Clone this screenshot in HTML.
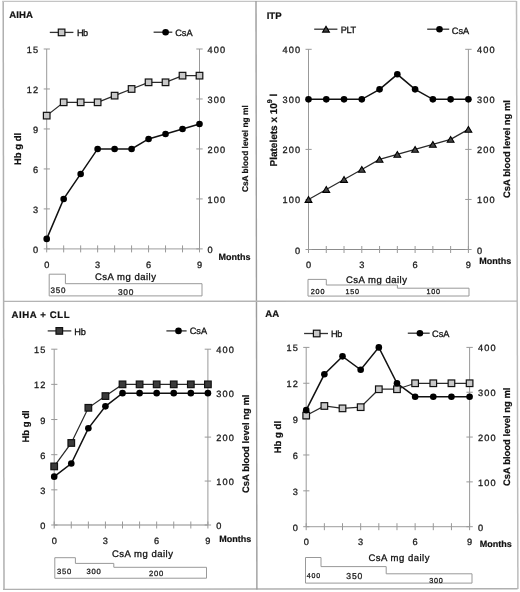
<!DOCTYPE html><html><head><meta charset="utf-8"><style>html,body{margin:0;padding:0;background:#fff;}svg{display:block;will-change:transform;filter:blur(0.3px);}text{text-rendering:geometricPrecision;font-family:"Liberation Sans", sans-serif;}</style></head><body>
<svg width="520" height="592" viewBox="0 0 520 592">
<rect width="520" height="592" fill="#fff"/>
<line x1="3.2" y1="1.2" x2="4" y2="589.4" stroke="#b0b0b0" stroke-width="1.5"/>
<line x1="2.2" y1="1.3" x2="516.4" y2="1.3" stroke="#c4c4c4" stroke-width="1.2"/>
<line x1="516.5" y1="1" x2="517.9" y2="589" stroke="#bcbcbc" stroke-width="1.5"/>
<line x1="3" y1="589.4" x2="517.6" y2="588.7" stroke="#b0b0b0" stroke-width="1.4"/>
<line x1="256" y1="1" x2="256.9" y2="589.4" stroke="#9c9c9c" stroke-width="1.4"/>
<line x1="3.4" y1="301.3" x2="517" y2="301.2" stroke="#b4b4b4" stroke-width="1.3"/>
<line x1="46.7" y1="49" x2="46.7" y2="248.9" stroke="#999" stroke-width="1"/>
<line x1="199.5" y1="49" x2="199.5" y2="248.9" stroke="#999" stroke-width="1"/>
<line x1="46.7" y1="248.9" x2="199.5" y2="248.9" stroke="#b0b0b0" stroke-width="1.3"/>
<line x1="43.7" y1="248.9" x2="49.9" y2="248.9" stroke="#999" stroke-width="1"/>
<text x="39.35" y="252.9" font-size="9.2" stroke="#1a1a1a" stroke-width="0.3" text-anchor="end" fill="#1a1a1a" letter-spacing="1.15">0</text>
<line x1="43.7" y1="208.92" x2="49.9" y2="208.92" stroke="#999" stroke-width="1"/>
<text x="39.35" y="212.92" font-size="9.2" stroke="#1a1a1a" stroke-width="0.3" text-anchor="end" fill="#1a1a1a" letter-spacing="1.15">3</text>
<line x1="43.7" y1="168.94" x2="49.9" y2="168.94" stroke="#999" stroke-width="1"/>
<text x="39.35" y="172.94" font-size="9.2" stroke="#1a1a1a" stroke-width="0.3" text-anchor="end" fill="#1a1a1a" letter-spacing="1.15">6</text>
<line x1="43.7" y1="128.96" x2="49.9" y2="128.96" stroke="#999" stroke-width="1"/>
<text x="39.35" y="132.96" font-size="9.2" stroke="#1a1a1a" stroke-width="0.3" text-anchor="end" fill="#1a1a1a" letter-spacing="1.15">9</text>
<line x1="43.7" y1="88.98" x2="49.9" y2="88.98" stroke="#999" stroke-width="1"/>
<text x="39.35" y="92.98" font-size="9.2" stroke="#1a1a1a" stroke-width="0.3" text-anchor="end" fill="#1a1a1a" letter-spacing="1.15">12</text>
<line x1="43.7" y1="49" x2="49.9" y2="49" stroke="#999" stroke-width="1"/>
<text x="39.35" y="53" font-size="9.2" stroke="#1a1a1a" stroke-width="0.3" text-anchor="end" fill="#1a1a1a" letter-spacing="1.15">15</text>
<line x1="196.3" y1="248.9" x2="202.7" y2="248.9" stroke="#999" stroke-width="1"/>
<text x="207.5" y="252.9" font-size="9.2" stroke="#1a1a1a" stroke-width="0.3" text-anchor="start" fill="#1a1a1a" letter-spacing="1.15">0</text>
<line x1="196.3" y1="198.93" x2="202.7" y2="198.93" stroke="#999" stroke-width="1"/>
<text x="207.5" y="202.93" font-size="9.2" stroke="#1a1a1a" stroke-width="0.3" text-anchor="start" fill="#1a1a1a" letter-spacing="1.15">100</text>
<line x1="196.3" y1="148.95" x2="202.7" y2="148.95" stroke="#999" stroke-width="1"/>
<text x="207.5" y="152.95" font-size="9.2" stroke="#1a1a1a" stroke-width="0.3" text-anchor="start" fill="#1a1a1a" letter-spacing="1.15">200</text>
<line x1="196.3" y1="98.97" x2="202.7" y2="98.97" stroke="#999" stroke-width="1"/>
<text x="207.5" y="102.97" font-size="9.2" stroke="#1a1a1a" stroke-width="0.3" text-anchor="start" fill="#1a1a1a" letter-spacing="1.15">300</text>
<line x1="196.3" y1="49" x2="202.7" y2="49" stroke="#999" stroke-width="1"/>
<text x="207.5" y="53" font-size="9.2" stroke="#1a1a1a" stroke-width="0.3" text-anchor="start" fill="#1a1a1a" letter-spacing="1.15">400</text>
<line x1="46.7" y1="245.4" x2="46.7" y2="252.4" stroke="#999" stroke-width="1"/>
<line x1="63.68" y1="245.4" x2="63.68" y2="252.4" stroke="#999" stroke-width="1"/>
<line x1="80.66" y1="245.4" x2="80.66" y2="252.4" stroke="#999" stroke-width="1"/>
<line x1="97.63" y1="245.4" x2="97.63" y2="252.4" stroke="#999" stroke-width="1"/>
<line x1="114.61" y1="245.4" x2="114.61" y2="252.4" stroke="#999" stroke-width="1"/>
<line x1="131.59" y1="245.4" x2="131.59" y2="252.4" stroke="#999" stroke-width="1"/>
<line x1="148.57" y1="245.4" x2="148.57" y2="252.4" stroke="#999" stroke-width="1"/>
<line x1="165.54" y1="245.4" x2="165.54" y2="252.4" stroke="#999" stroke-width="1"/>
<line x1="182.52" y1="245.4" x2="182.52" y2="252.4" stroke="#999" stroke-width="1"/>
<line x1="199.5" y1="245.4" x2="199.5" y2="252.4" stroke="#999" stroke-width="1"/>
<text x="46.7" y="267.6" font-size="9.2" stroke="#1a1a1a" stroke-width="0.3" text-anchor="middle" fill="#1a1a1a">0</text>
<text x="97.63" y="267.6" font-size="9.2" stroke="#1a1a1a" stroke-width="0.3" text-anchor="middle" fill="#1a1a1a">3</text>
<text x="148.57" y="267.6" font-size="9.2" stroke="#1a1a1a" stroke-width="0.3" text-anchor="middle" fill="#1a1a1a">6</text>
<text x="199.5" y="267.6" font-size="9.2" stroke="#1a1a1a" stroke-width="0.3" text-anchor="middle" fill="#1a1a1a">9</text>
<text x="218.6" y="260.4" font-size="9" font-weight="bold" stroke="#111" stroke-width="0.2" text-anchor="start" fill="#111">Months</text>
<text x="95" y="279.6" font-size="9.5" stroke="#111" stroke-width="0.3" text-anchor="start" fill="#111" letter-spacing="0.5">CsA mg daily</text>
<polygon points="49.2,295.9 49.2,274.2 65.4,274.2 65.4,283.7 202,283.7 202,295.9" fill="none" stroke="#999" stroke-width="1" stroke-linejoin="miter"/>
<text x="50.6" y="293.3" font-size="8" stroke="#222" stroke-width="0.3" text-anchor="start" fill="#222" letter-spacing="0.8">350</text>
<text x="117.9" y="294.8" font-size="8.4" stroke="#222" stroke-width="0.3" text-anchor="start" fill="#222" letter-spacing="0.8">300</text>
<text x="9.2" y="17.9" font-size="9.6" font-weight="bold" stroke="#111" stroke-width="0.2" text-anchor="start" fill="#111" letter-spacing="0.1">AIHA</text>
<line x1="49.8" y1="32.4" x2="73.4" y2="32.4" stroke="#333" stroke-width="1.3"/>
<rect x="58.3" y="29.1" width="6.6" height="6.6" fill="#c8c8c8" stroke="#111" stroke-width="1.2"/>
<text x="77.1" y="35.9" font-size="9.2" stroke="#111" stroke-width="0.3" text-anchor="start" fill="#111" letter-spacing="-0.7">Hb</text>
<line x1="153.6" y1="32.2" x2="172.3" y2="32.2" stroke="#333" stroke-width="1.3"/>
<circle cx="165.6" cy="32.2" r="3.3" fill="#000"/>
<text x="175.2" y="35.6" font-size="9.2" stroke="#111" stroke-width="0.3" text-anchor="start" fill="#111">CsA</text>
<text transform="translate(20.6,148.9) rotate(-90)" font-size="9.55" font-weight="bold" stroke="#111" stroke-width="0.2" text-anchor="middle" fill="#111">Hb g dl</text>
<text transform="translate(248.4,148.7) rotate(-90)" font-size="8.35" font-weight="bold" stroke="#111" stroke-width="0.2" text-anchor="middle" fill="#111">CsA blood level ng ml</text>
<polyline points="46.7,115.63 63.68,102.31 80.66,102.31 97.63,102.31 114.61,95.64 131.59,88.98 148.57,82.32 165.54,82.32 182.52,75.65 199.5,75.65" fill="none" stroke="#2a2a2a" stroke-width="1.25" stroke-linejoin="miter"/>
<rect x="43.4" y="112.33" width="6.6" height="6.6" fill="#c8c8c8" stroke="#111" stroke-width="1.2"/>
<rect x="60.38" y="99.01" width="6.6" height="6.6" fill="#c8c8c8" stroke="#111" stroke-width="1.2"/>
<rect x="77.36" y="99.01" width="6.6" height="6.6" fill="#c8c8c8" stroke="#111" stroke-width="1.2"/>
<rect x="94.33" y="99.01" width="6.6" height="6.6" fill="#c8c8c8" stroke="#111" stroke-width="1.2"/>
<rect x="111.31" y="92.34" width="6.6" height="6.6" fill="#c8c8c8" stroke="#111" stroke-width="1.2"/>
<rect x="128.29" y="85.68" width="6.6" height="6.6" fill="#c8c8c8" stroke="#111" stroke-width="1.2"/>
<rect x="145.27" y="79.02" width="6.6" height="6.6" fill="#c8c8c8" stroke="#111" stroke-width="1.2"/>
<rect x="162.24" y="79.02" width="6.6" height="6.6" fill="#c8c8c8" stroke="#111" stroke-width="1.2"/>
<rect x="179.22" y="72.35" width="6.6" height="6.6" fill="#c8c8c8" stroke="#111" stroke-width="1.2"/>
<rect x="196.2" y="72.35" width="6.6" height="6.6" fill="#c8c8c8" stroke="#111" stroke-width="1.2"/>
<polyline points="46.7,238.91 63.68,198.93 80.66,173.94 97.63,148.95 114.61,148.95 131.59,148.95 148.57,138.96 165.54,133.96 182.52,128.96 199.5,123.96" fill="none" stroke="#111" stroke-width="1.5" stroke-linejoin="miter"/>
<circle cx="46.7" cy="238.91" r="3.3" fill="#000"/>
<circle cx="63.68" cy="198.93" r="3.3" fill="#000"/>
<circle cx="80.66" cy="173.94" r="3.3" fill="#000"/>
<circle cx="97.63" cy="148.95" r="3.3" fill="#000"/>
<circle cx="114.61" cy="148.95" r="3.3" fill="#000"/>
<circle cx="131.59" cy="148.95" r="3.3" fill="#000"/>
<circle cx="148.57" cy="138.96" r="3.3" fill="#000"/>
<circle cx="165.54" cy="133.96" r="3.3" fill="#000"/>
<circle cx="182.52" cy="128.96" r="3.3" fill="#000"/>
<circle cx="199.5" cy="123.96" r="3.3" fill="#000"/>
<line x1="308.5" y1="49.3" x2="308.5" y2="249.5" stroke="#999" stroke-width="1"/>
<line x1="468.4" y1="49.3" x2="468.4" y2="249.5" stroke="#999" stroke-width="1"/>
<line x1="308.5" y1="249.5" x2="468.4" y2="249.5" stroke="#8c8c8c" stroke-width="1.0"/>
<line x1="305.5" y1="249.5" x2="311.7" y2="249.5" stroke="#999" stroke-width="1"/>
<text x="301.35" y="253.5" font-size="9.2" stroke="#1a1a1a" stroke-width="0.3" text-anchor="end" fill="#1a1a1a" letter-spacing="1.15">0</text>
<line x1="305.5" y1="199.45" x2="311.7" y2="199.45" stroke="#999" stroke-width="1"/>
<text x="301.35" y="203.45" font-size="9.2" stroke="#1a1a1a" stroke-width="0.3" text-anchor="end" fill="#1a1a1a" letter-spacing="1.15">100</text>
<line x1="305.5" y1="149.4" x2="311.7" y2="149.4" stroke="#999" stroke-width="1"/>
<text x="301.35" y="153.4" font-size="9.2" stroke="#1a1a1a" stroke-width="0.3" text-anchor="end" fill="#1a1a1a" letter-spacing="1.15">200</text>
<line x1="305.5" y1="99.35" x2="311.7" y2="99.35" stroke="#999" stroke-width="1"/>
<text x="301.35" y="103.35" font-size="9.2" stroke="#1a1a1a" stroke-width="0.3" text-anchor="end" fill="#1a1a1a" letter-spacing="1.15">300</text>
<line x1="305.5" y1="49.3" x2="311.7" y2="49.3" stroke="#999" stroke-width="1"/>
<text x="301.35" y="53.3" font-size="9.2" stroke="#1a1a1a" stroke-width="0.3" text-anchor="end" fill="#1a1a1a" letter-spacing="1.15">400</text>
<line x1="465.2" y1="249.5" x2="471.6" y2="249.5" stroke="#999" stroke-width="1"/>
<text x="477.1" y="253.5" font-size="9.2" stroke="#1a1a1a" stroke-width="0.3" text-anchor="start" fill="#1a1a1a" letter-spacing="1.15">0</text>
<line x1="465.2" y1="199.45" x2="471.6" y2="199.45" stroke="#999" stroke-width="1"/>
<text x="477.1" y="203.45" font-size="9.2" stroke="#1a1a1a" stroke-width="0.3" text-anchor="start" fill="#1a1a1a" letter-spacing="1.15">100</text>
<line x1="465.2" y1="149.4" x2="471.6" y2="149.4" stroke="#999" stroke-width="1"/>
<text x="477.1" y="153.4" font-size="9.2" stroke="#1a1a1a" stroke-width="0.3" text-anchor="start" fill="#1a1a1a" letter-spacing="1.15">200</text>
<line x1="465.2" y1="99.35" x2="471.6" y2="99.35" stroke="#999" stroke-width="1"/>
<text x="477.1" y="103.35" font-size="9.2" stroke="#1a1a1a" stroke-width="0.3" text-anchor="start" fill="#1a1a1a" letter-spacing="1.15">300</text>
<line x1="465.2" y1="49.3" x2="471.6" y2="49.3" stroke="#999" stroke-width="1"/>
<text x="477.1" y="53.3" font-size="9.2" stroke="#1a1a1a" stroke-width="0.3" text-anchor="start" fill="#1a1a1a" letter-spacing="1.15">400</text>
<line x1="308.5" y1="246" x2="308.5" y2="253" stroke="#999" stroke-width="1"/>
<line x1="326.27" y1="246" x2="326.27" y2="253" stroke="#999" stroke-width="1"/>
<line x1="344.03" y1="246" x2="344.03" y2="253" stroke="#999" stroke-width="1"/>
<line x1="361.8" y1="246" x2="361.8" y2="253" stroke="#999" stroke-width="1"/>
<line x1="379.57" y1="246" x2="379.57" y2="253" stroke="#999" stroke-width="1"/>
<line x1="397.33" y1="246" x2="397.33" y2="253" stroke="#999" stroke-width="1"/>
<line x1="415.1" y1="246" x2="415.1" y2="253" stroke="#999" stroke-width="1"/>
<line x1="432.87" y1="246" x2="432.87" y2="253" stroke="#999" stroke-width="1"/>
<line x1="450.63" y1="246" x2="450.63" y2="253" stroke="#999" stroke-width="1"/>
<line x1="468.4" y1="246" x2="468.4" y2="253" stroke="#999" stroke-width="1"/>
<text x="308.5" y="267.8" font-size="9.2" stroke="#1a1a1a" stroke-width="0.3" text-anchor="middle" fill="#1a1a1a">0</text>
<text x="361.8" y="267.8" font-size="9.2" stroke="#1a1a1a" stroke-width="0.3" text-anchor="middle" fill="#1a1a1a">3</text>
<text x="415.1" y="267.8" font-size="9.2" stroke="#1a1a1a" stroke-width="0.3" text-anchor="middle" fill="#1a1a1a">6</text>
<text x="468.4" y="267.8" font-size="9.2" stroke="#1a1a1a" stroke-width="0.3" text-anchor="middle" fill="#1a1a1a">9</text>
<text x="479.2" y="264" font-size="9" font-weight="bold" stroke="#111" stroke-width="0.2" text-anchor="start" fill="#111">Months</text>
<text x="346" y="282.7" font-size="9.5" stroke="#111" stroke-width="0.3" text-anchor="start" fill="#111" letter-spacing="0.5">CsA mg daily</text>
<polygon points="308,296.1 308,279.4 326.3,279.4 326.3,285 397.4,285 397.4,288.2 469,288.2 469,296" fill="none" stroke="#999" stroke-width="1" stroke-linejoin="miter"/>
<text x="310.8" y="293.8" font-size="7.2" stroke="#222" stroke-width="0.3" text-anchor="start" fill="#222" letter-spacing="0.8">200</text>
<text x="345.4" y="293.8" font-size="7.2" stroke="#222" stroke-width="0.3" text-anchor="start" fill="#222" letter-spacing="0.8">150</text>
<text x="426.4" y="294.4" font-size="7.2" stroke="#222" stroke-width="0.3" text-anchor="start" fill="#222" letter-spacing="0.8">100</text>
<text x="266.7" y="18.7" font-size="9.6" font-weight="bold" stroke="#111" stroke-width="0.2" text-anchor="start" fill="#111" letter-spacing="0">ITP</text>
<line x1="314.2" y1="29.2" x2="337.4" y2="29.2" stroke="#333" stroke-width="1.3"/>
<polygon points="326,26.3 329.4,32.1 322.6,32.1" fill="#444" stroke="#000" stroke-width="1.1"/>
<text x="340.8" y="33.3" font-size="9.2" stroke="#111" stroke-width="0.3" text-anchor="start" fill="#111" letter-spacing="-0.4">PLT</text>
<line x1="427.2" y1="29.2" x2="449.2" y2="29.2" stroke="#333" stroke-width="1.3"/>
<circle cx="439.5" cy="29.2" r="3.3" fill="#000"/>
<text x="451.8" y="33.7" font-size="9.2" stroke="#111" stroke-width="0.3" text-anchor="start" fill="#111">CsA</text>
<text transform="translate(276.9,130.1) rotate(-90)" font-size="10" font-weight="bold" stroke="#111" stroke-width="0.2" text-anchor="middle" fill="#111">Platelets x 10<tspan dy="-4.6" font-size="7">9</tspan><tspan dy="4.6"> l</tspan></text>
<text transform="translate(509.5,149) rotate(-90)" font-size="9.42" font-weight="bold" stroke="#111" stroke-width="0.2" text-anchor="middle" fill="#111">CsA blood level ng ml</text>
<polyline points="308.5,99.35 326.27,99.35 344.03,99.35 361.8,99.35 379.57,89.34 397.33,74.32 415.1,89.34 432.87,99.35 450.63,99.35 468.4,99.35" fill="none" stroke="#111" stroke-width="1.5" stroke-linejoin="miter"/>
<circle cx="308.5" cy="99.35" r="3.3" fill="#000"/>
<circle cx="326.27" cy="99.35" r="3.3" fill="#000"/>
<circle cx="344.03" cy="99.35" r="3.3" fill="#000"/>
<circle cx="361.8" cy="99.35" r="3.3" fill="#000"/>
<circle cx="379.57" cy="89.34" r="3.3" fill="#000"/>
<circle cx="397.33" cy="74.32" r="3.3" fill="#000"/>
<circle cx="415.1" cy="89.34" r="3.3" fill="#000"/>
<circle cx="432.87" cy="99.35" r="3.3" fill="#000"/>
<circle cx="450.63" cy="99.35" r="3.3" fill="#000"/>
<circle cx="468.4" cy="99.35" r="3.3" fill="#000"/>
<polyline points="308.5,199.45 326.27,189.44 344.03,179.43 361.8,169.42 379.57,159.41 397.33,154.41 415.1,149.4 432.87,144.39 450.63,139.39 468.4,129.38" fill="none" stroke="#2a2a2a" stroke-width="1.25" stroke-linejoin="miter"/>
<polygon points="308.5,196.55 311.9,202.35 305.1,202.35" fill="#444" stroke="#000" stroke-width="1.1"/>
<polygon points="326.27,186.54 329.67,192.34 322.87,192.34" fill="#444" stroke="#000" stroke-width="1.1"/>
<polygon points="344.03,176.53 347.43,182.33 340.63,182.33" fill="#444" stroke="#000" stroke-width="1.1"/>
<polygon points="361.8,166.52 365.2,172.32 358.4,172.32" fill="#444" stroke="#000" stroke-width="1.1"/>
<polygon points="379.57,156.51 382.97,162.31 376.17,162.31" fill="#444" stroke="#000" stroke-width="1.1"/>
<polygon points="397.33,151.51 400.73,157.31 393.93,157.31" fill="#444" stroke="#000" stroke-width="1.1"/>
<polygon points="415.1,146.5 418.5,152.3 411.7,152.3" fill="#444" stroke="#000" stroke-width="1.1"/>
<polygon points="432.87,141.5 436.27,147.3 429.47,147.3" fill="#444" stroke="#000" stroke-width="1.1"/>
<polygon points="450.63,136.49 454.03,142.29 447.23,142.29" fill="#444" stroke="#000" stroke-width="1.1"/>
<polygon points="468.4,126.48 471.8,132.28 465,132.28" fill="#444" stroke="#000" stroke-width="1.1"/>
<line x1="54.2" y1="349.2" x2="54.2" y2="525" stroke="#999" stroke-width="1"/>
<line x1="207.9" y1="349.2" x2="207.9" y2="525" stroke="#999" stroke-width="1"/>
<line x1="54.2" y1="525" x2="207.9" y2="525" stroke="#b0b0b0" stroke-width="1.3"/>
<line x1="51.2" y1="525" x2="57.4" y2="525" stroke="#999" stroke-width="1"/>
<text x="46.55" y="529" font-size="9.2" stroke="#1a1a1a" stroke-width="0.3" text-anchor="end" fill="#1a1a1a" letter-spacing="1.15">0</text>
<line x1="51.2" y1="489.84" x2="57.4" y2="489.84" stroke="#999" stroke-width="1"/>
<text x="46.55" y="493.84" font-size="9.2" stroke="#1a1a1a" stroke-width="0.3" text-anchor="end" fill="#1a1a1a" letter-spacing="1.15">3</text>
<line x1="51.2" y1="454.68" x2="57.4" y2="454.68" stroke="#999" stroke-width="1"/>
<text x="46.55" y="458.68" font-size="9.2" stroke="#1a1a1a" stroke-width="0.3" text-anchor="end" fill="#1a1a1a" letter-spacing="1.15">6</text>
<line x1="51.2" y1="419.52" x2="57.4" y2="419.52" stroke="#999" stroke-width="1"/>
<text x="46.55" y="423.52" font-size="9.2" stroke="#1a1a1a" stroke-width="0.3" text-anchor="end" fill="#1a1a1a" letter-spacing="1.15">9</text>
<line x1="51.2" y1="384.36" x2="57.4" y2="384.36" stroke="#999" stroke-width="1"/>
<text x="46.55" y="388.36" font-size="9.2" stroke="#1a1a1a" stroke-width="0.3" text-anchor="end" fill="#1a1a1a" letter-spacing="1.15">12</text>
<line x1="51.2" y1="349.2" x2="57.4" y2="349.2" stroke="#999" stroke-width="1"/>
<text x="46.55" y="353.2" font-size="9.2" stroke="#1a1a1a" stroke-width="0.3" text-anchor="end" fill="#1a1a1a" letter-spacing="1.15">15</text>
<line x1="204.7" y1="525" x2="211.1" y2="525" stroke="#999" stroke-width="1"/>
<text x="216.2" y="529" font-size="9.2" stroke="#1a1a1a" stroke-width="0.3" text-anchor="start" fill="#1a1a1a" letter-spacing="1.15">0</text>
<line x1="204.7" y1="481.05" x2="211.1" y2="481.05" stroke="#999" stroke-width="1"/>
<text x="216.2" y="485.05" font-size="9.2" stroke="#1a1a1a" stroke-width="0.3" text-anchor="start" fill="#1a1a1a" letter-spacing="1.15">100</text>
<line x1="204.7" y1="437.1" x2="211.1" y2="437.1" stroke="#999" stroke-width="1"/>
<text x="216.2" y="441.1" font-size="9.2" stroke="#1a1a1a" stroke-width="0.3" text-anchor="start" fill="#1a1a1a" letter-spacing="1.15">200</text>
<line x1="204.7" y1="393.15" x2="211.1" y2="393.15" stroke="#999" stroke-width="1"/>
<text x="216.2" y="397.15" font-size="9.2" stroke="#1a1a1a" stroke-width="0.3" text-anchor="start" fill="#1a1a1a" letter-spacing="1.15">300</text>
<line x1="204.7" y1="349.2" x2="211.1" y2="349.2" stroke="#999" stroke-width="1"/>
<text x="216.2" y="353.2" font-size="9.2" stroke="#1a1a1a" stroke-width="0.3" text-anchor="start" fill="#1a1a1a" letter-spacing="1.15">400</text>
<line x1="54.2" y1="521.5" x2="54.2" y2="528.5" stroke="#999" stroke-width="1"/>
<line x1="71.28" y1="521.5" x2="71.28" y2="528.5" stroke="#999" stroke-width="1"/>
<line x1="88.36" y1="521.5" x2="88.36" y2="528.5" stroke="#999" stroke-width="1"/>
<line x1="105.43" y1="521.5" x2="105.43" y2="528.5" stroke="#999" stroke-width="1"/>
<line x1="122.51" y1="521.5" x2="122.51" y2="528.5" stroke="#999" stroke-width="1"/>
<line x1="139.59" y1="521.5" x2="139.59" y2="528.5" stroke="#999" stroke-width="1"/>
<line x1="156.67" y1="521.5" x2="156.67" y2="528.5" stroke="#999" stroke-width="1"/>
<line x1="173.74" y1="521.5" x2="173.74" y2="528.5" stroke="#999" stroke-width="1"/>
<line x1="190.82" y1="521.5" x2="190.82" y2="528.5" stroke="#999" stroke-width="1"/>
<line x1="207.9" y1="521.5" x2="207.9" y2="528.5" stroke="#999" stroke-width="1"/>
<text x="54.2" y="543.5" font-size="9.2" stroke="#1a1a1a" stroke-width="0.3" text-anchor="middle" fill="#1a1a1a">0</text>
<text x="105.43" y="543.5" font-size="9.2" stroke="#1a1a1a" stroke-width="0.3" text-anchor="middle" fill="#1a1a1a">3</text>
<text x="156.67" y="543.5" font-size="9.2" stroke="#1a1a1a" stroke-width="0.3" text-anchor="middle" fill="#1a1a1a">6</text>
<text x="207.9" y="543.5" font-size="9.2" stroke="#1a1a1a" stroke-width="0.3" text-anchor="middle" fill="#1a1a1a">9</text>
<text x="219.2" y="542" font-size="9" font-weight="bold" stroke="#111" stroke-width="0.2" text-anchor="start" fill="#111">Months</text>
<text x="112" y="557.3" font-size="9.5" stroke="#111" stroke-width="0.3" text-anchor="start" fill="#111" letter-spacing="0.5">CsA mg daily</text>
<polygon points="54.8,578.3 54.8,557.7 75.4,557.7 75.4,563.4 113.8,563.4 113.8,567.3 206.5,567.3 206.5,578.2" fill="none" stroke="#999" stroke-width="1" stroke-linejoin="miter"/>
<text x="57" y="574" font-size="7.6" stroke="#222" stroke-width="0.3" text-anchor="start" fill="#222" letter-spacing="0.8">350</text>
<text x="86.5" y="574" font-size="7.6" stroke="#222" stroke-width="0.3" text-anchor="start" fill="#222" letter-spacing="0.8">300</text>
<text x="149" y="575.9" font-size="7.6" stroke="#222" stroke-width="0.3" text-anchor="start" fill="#222" letter-spacing="0.8">200</text>
<text x="11.5" y="318.1" font-size="9.6" font-weight="bold" stroke="#111" stroke-width="0.2" text-anchor="start" fill="#111" letter-spacing="0.6">AIHA + CLL</text>
<line x1="47.7" y1="330.9" x2="71.3" y2="330.9" stroke="#333" stroke-width="1.3"/>
<rect x="56" y="327.6" width="6.6" height="6.6" fill="#3a3a3a" stroke="#111" stroke-width="1.2"/>
<text x="74.2" y="334.8" font-size="9.2" stroke="#111" stroke-width="0.3" text-anchor="start" fill="#111">Hb</text>
<line x1="166.4" y1="330.9" x2="186.6" y2="330.9" stroke="#333" stroke-width="1.3"/>
<circle cx="178.5" cy="330.9" r="3.3" fill="#000"/>
<text x="189.7" y="334.4" font-size="9.2" stroke="#111" stroke-width="0.3" text-anchor="start" fill="#111">CsA</text>
<text transform="translate(28.8,426.5) rotate(-90)" font-size="9.5" font-weight="bold" stroke="#111" stroke-width="0.2" text-anchor="middle" fill="#111">Hb g dl</text>
<text transform="translate(248.8,443.8) rotate(-90)" font-size="9.47" font-weight="bold" stroke="#111" stroke-width="0.2" text-anchor="middle" fill="#111">CsA blood level ng ml</text>
<polyline points="54.2,466.4 71.28,442.96 88.36,407.8 105.43,396.08 122.51,384.36 139.59,384.36 156.67,384.36 173.74,384.36 190.82,384.36 207.9,384.36" fill="none" stroke="#2a2a2a" stroke-width="1.25" stroke-linejoin="miter"/>
<rect x="50.9" y="463.1" width="6.6" height="6.6" fill="#3a3a3a" stroke="#111" stroke-width="1.2"/>
<rect x="67.98" y="439.66" width="6.6" height="6.6" fill="#3a3a3a" stroke="#111" stroke-width="1.2"/>
<rect x="85.06" y="404.5" width="6.6" height="6.6" fill="#3a3a3a" stroke="#111" stroke-width="1.2"/>
<rect x="102.13" y="392.78" width="6.6" height="6.6" fill="#3a3a3a" stroke="#111" stroke-width="1.2"/>
<rect x="119.21" y="381.06" width="6.6" height="6.6" fill="#3a3a3a" stroke="#111" stroke-width="1.2"/>
<rect x="136.29" y="381.06" width="6.6" height="6.6" fill="#3a3a3a" stroke="#111" stroke-width="1.2"/>
<rect x="153.37" y="381.06" width="6.6" height="6.6" fill="#3a3a3a" stroke="#111" stroke-width="1.2"/>
<rect x="170.44" y="381.06" width="6.6" height="6.6" fill="#3a3a3a" stroke="#111" stroke-width="1.2"/>
<rect x="187.52" y="381.06" width="6.6" height="6.6" fill="#3a3a3a" stroke="#111" stroke-width="1.2"/>
<rect x="204.6" y="381.06" width="6.6" height="6.6" fill="#3a3a3a" stroke="#111" stroke-width="1.2"/>
<polyline points="54.2,476.65 71.28,463.47 88.36,428.31 105.43,406.33 122.51,393.15 139.59,393.15 156.67,393.15 173.74,393.15 190.82,393.15 207.9,393.15" fill="none" stroke="#111" stroke-width="1.5" stroke-linejoin="miter"/>
<circle cx="54.2" cy="476.65" r="3.3" fill="#000"/>
<circle cx="71.28" cy="463.47" r="3.3" fill="#000"/>
<circle cx="88.36" cy="428.31" r="3.3" fill="#000"/>
<circle cx="105.43" cy="406.33" r="3.3" fill="#000"/>
<circle cx="122.51" cy="393.15" r="3.3" fill="#000"/>
<circle cx="139.59" cy="393.15" r="3.3" fill="#000"/>
<circle cx="156.67" cy="393.15" r="3.3" fill="#000"/>
<circle cx="173.74" cy="393.15" r="3.3" fill="#000"/>
<circle cx="190.82" cy="393.15" r="3.3" fill="#000"/>
<circle cx="207.9" cy="393.15" r="3.3" fill="#000"/>
<line x1="306.2" y1="347.4" x2="306.2" y2="526.7" stroke="#999" stroke-width="1"/>
<line x1="469.6" y1="347.4" x2="469.6" y2="526.7" stroke="#999" stroke-width="1"/>
<line x1="306.2" y1="526.7" x2="469.6" y2="526.7" stroke="#b0b0b0" stroke-width="1.3"/>
<line x1="303.2" y1="526.7" x2="309.4" y2="526.7" stroke="#999" stroke-width="1"/>
<text x="299.05" y="530.7" font-size="9.2" stroke="#1a1a1a" stroke-width="0.3" text-anchor="end" fill="#1a1a1a" letter-spacing="1.15">0</text>
<line x1="303.2" y1="490.84" x2="309.4" y2="490.84" stroke="#999" stroke-width="1"/>
<text x="299.05" y="494.84" font-size="9.2" stroke="#1a1a1a" stroke-width="0.3" text-anchor="end" fill="#1a1a1a" letter-spacing="1.15">3</text>
<line x1="303.2" y1="454.98" x2="309.4" y2="454.98" stroke="#999" stroke-width="1"/>
<text x="299.05" y="458.98" font-size="9.2" stroke="#1a1a1a" stroke-width="0.3" text-anchor="end" fill="#1a1a1a" letter-spacing="1.15">6</text>
<line x1="303.2" y1="419.12" x2="309.4" y2="419.12" stroke="#999" stroke-width="1"/>
<text x="299.05" y="423.12" font-size="9.2" stroke="#1a1a1a" stroke-width="0.3" text-anchor="end" fill="#1a1a1a" letter-spacing="1.15">9</text>
<line x1="303.2" y1="383.26" x2="309.4" y2="383.26" stroke="#999" stroke-width="1"/>
<text x="299.05" y="387.26" font-size="9.2" stroke="#1a1a1a" stroke-width="0.3" text-anchor="end" fill="#1a1a1a" letter-spacing="1.15">12</text>
<line x1="303.2" y1="347.4" x2="309.4" y2="347.4" stroke="#999" stroke-width="1"/>
<text x="299.05" y="351.4" font-size="9.2" stroke="#1a1a1a" stroke-width="0.3" text-anchor="end" fill="#1a1a1a" letter-spacing="1.15">15</text>
<line x1="466.4" y1="526.7" x2="472.8" y2="526.7" stroke="#999" stroke-width="1"/>
<text x="478" y="530.7" font-size="9.2" stroke="#1a1a1a" stroke-width="0.3" text-anchor="start" fill="#1a1a1a" letter-spacing="1.15">0</text>
<line x1="466.4" y1="481.88" x2="472.8" y2="481.88" stroke="#999" stroke-width="1"/>
<text x="478" y="485.88" font-size="9.2" stroke="#1a1a1a" stroke-width="0.3" text-anchor="start" fill="#1a1a1a" letter-spacing="1.15">100</text>
<line x1="466.4" y1="437.05" x2="472.8" y2="437.05" stroke="#999" stroke-width="1"/>
<text x="478" y="441.05" font-size="9.2" stroke="#1a1a1a" stroke-width="0.3" text-anchor="start" fill="#1a1a1a" letter-spacing="1.15">200</text>
<line x1="466.4" y1="392.23" x2="472.8" y2="392.23" stroke="#999" stroke-width="1"/>
<text x="478" y="396.23" font-size="9.2" stroke="#1a1a1a" stroke-width="0.3" text-anchor="start" fill="#1a1a1a" letter-spacing="1.15">300</text>
<line x1="466.4" y1="347.4" x2="472.8" y2="347.4" stroke="#999" stroke-width="1"/>
<text x="478" y="351.4" font-size="9.2" stroke="#1a1a1a" stroke-width="0.3" text-anchor="start" fill="#1a1a1a" letter-spacing="1.15">400</text>
<line x1="306.2" y1="523.2" x2="306.2" y2="530.2" stroke="#999" stroke-width="1"/>
<line x1="324.36" y1="523.2" x2="324.36" y2="530.2" stroke="#999" stroke-width="1"/>
<line x1="342.51" y1="523.2" x2="342.51" y2="530.2" stroke="#999" stroke-width="1"/>
<line x1="360.67" y1="523.2" x2="360.67" y2="530.2" stroke="#999" stroke-width="1"/>
<line x1="378.82" y1="523.2" x2="378.82" y2="530.2" stroke="#999" stroke-width="1"/>
<line x1="396.98" y1="523.2" x2="396.98" y2="530.2" stroke="#999" stroke-width="1"/>
<line x1="415.13" y1="523.2" x2="415.13" y2="530.2" stroke="#999" stroke-width="1"/>
<line x1="433.29" y1="523.2" x2="433.29" y2="530.2" stroke="#999" stroke-width="1"/>
<line x1="451.44" y1="523.2" x2="451.44" y2="530.2" stroke="#999" stroke-width="1"/>
<line x1="469.6" y1="523.2" x2="469.6" y2="530.2" stroke="#999" stroke-width="1"/>
<text x="306.2" y="545.3" font-size="9.2" stroke="#1a1a1a" stroke-width="0.3" text-anchor="middle" fill="#1a1a1a">0</text>
<text x="360.67" y="545.3" font-size="9.2" stroke="#1a1a1a" stroke-width="0.3" text-anchor="middle" fill="#1a1a1a">3</text>
<text x="415.13" y="545.3" font-size="9.2" stroke="#1a1a1a" stroke-width="0.3" text-anchor="middle" fill="#1a1a1a">6</text>
<text x="469.6" y="545.3" font-size="9.2" stroke="#1a1a1a" stroke-width="0.3" text-anchor="middle" fill="#1a1a1a">9</text>
<text x="479.8" y="547" font-size="9" font-weight="bold" stroke="#111" stroke-width="0.2" text-anchor="start" fill="#111">Months</text>
<text x="368.5" y="561.3" font-size="9.5" stroke="#111" stroke-width="0.3" text-anchor="start" fill="#111" letter-spacing="0.5">CsA mg daily</text>
<polygon points="305.5,583.1 305.5,557.5 321,557.5 321,566.6 386.2,566.6 386.2,573.8 472,573.8 472,583.1" fill="none" stroke="#999" stroke-width="1" stroke-linejoin="miter"/>
<text x="306.8" y="577.8" font-size="7.0" stroke="#222" stroke-width="0.3" text-anchor="start" fill="#222" letter-spacing="0.8">400</text>
<text x="346.3" y="578.6" font-size="8.6" stroke="#222" stroke-width="0.3" text-anchor="start" fill="#222" letter-spacing="0.8">350</text>
<text x="429.2" y="582.6" font-size="7.2" stroke="#222" stroke-width="0.3" text-anchor="start" fill="#222" letter-spacing="0.8">300</text>
<text x="265.2" y="316.7" font-size="9.6" font-weight="bold" stroke="#111" stroke-width="0.2" text-anchor="start" fill="#111" letter-spacing="0.25">AA</text>
<line x1="304.1" y1="333.5" x2="328" y2="333.5" stroke="#333" stroke-width="1.3"/>
<rect x="313.4" y="330.2" width="6.6" height="6.6" fill="#c8c8c8" stroke="#111" stroke-width="1.2"/>
<text x="331" y="337.3" font-size="9.2" stroke="#111" stroke-width="0.3" text-anchor="start" fill="#111" letter-spacing="-0.4">Hb</text>
<line x1="407.8" y1="333.2" x2="429.7" y2="333.2" stroke="#333" stroke-width="1.3"/>
<circle cx="419.9" cy="333.2" r="3.3" fill="#000"/>
<text x="432" y="337.1" font-size="9.2" stroke="#111" stroke-width="0.3" text-anchor="start" fill="#111">CsA</text>
<text transform="translate(280.9,437.1) rotate(-90)" font-size="9.55" font-weight="bold" stroke="#111" stroke-width="0.2" text-anchor="middle" fill="#111">Hb g dl</text>
<text transform="translate(509.6,436.8) rotate(-90)" font-size="9.48" font-weight="bold" stroke="#111" stroke-width="0.2" text-anchor="middle" fill="#111">CsA blood level ng ml</text>
<polyline points="306.2,415.53 324.36,405.97 342.51,408.36 360.67,407.17 378.82,389.24 396.98,389.24 415.13,383.26 433.29,383.26 451.44,383.26 469.6,383.26" fill="none" stroke="#2a2a2a" stroke-width="1.25" stroke-linejoin="miter"/>
<rect x="302.9" y="412.23" width="6.6" height="6.6" fill="#c8c8c8" stroke="#111" stroke-width="1.2"/>
<rect x="321.06" y="402.67" width="6.6" height="6.6" fill="#c8c8c8" stroke="#111" stroke-width="1.2"/>
<rect x="339.21" y="405.06" width="6.6" height="6.6" fill="#c8c8c8" stroke="#111" stroke-width="1.2"/>
<rect x="357.37" y="403.87" width="6.6" height="6.6" fill="#c8c8c8" stroke="#111" stroke-width="1.2"/>
<rect x="375.52" y="385.94" width="6.6" height="6.6" fill="#c8c8c8" stroke="#111" stroke-width="1.2"/>
<rect x="393.68" y="385.94" width="6.6" height="6.6" fill="#c8c8c8" stroke="#111" stroke-width="1.2"/>
<rect x="411.83" y="379.96" width="6.6" height="6.6" fill="#c8c8c8" stroke="#111" stroke-width="1.2"/>
<rect x="429.99" y="379.96" width="6.6" height="6.6" fill="#c8c8c8" stroke="#111" stroke-width="1.2"/>
<rect x="448.14" y="379.96" width="6.6" height="6.6" fill="#c8c8c8" stroke="#111" stroke-width="1.2"/>
<rect x="466.3" y="379.96" width="6.6" height="6.6" fill="#c8c8c8" stroke="#111" stroke-width="1.2"/>
<polyline points="306.2,410.16 324.36,374.29 342.51,356.37 360.67,369.81 378.82,347.4 396.98,383.26 415.13,396.71 433.29,396.71 451.44,396.71 469.6,396.71" fill="none" stroke="#111" stroke-width="1.5" stroke-linejoin="miter"/>
<circle cx="306.2" cy="410.16" r="3.3" fill="#000"/>
<circle cx="324.36" cy="374.29" r="3.3" fill="#000"/>
<circle cx="342.51" cy="356.37" r="3.3" fill="#000"/>
<circle cx="360.67" cy="369.81" r="3.3" fill="#000"/>
<circle cx="378.82" cy="347.4" r="3.3" fill="#000"/>
<circle cx="396.98" cy="383.26" r="3.3" fill="#000"/>
<circle cx="415.13" cy="396.71" r="3.3" fill="#000"/>
<circle cx="433.29" cy="396.71" r="3.3" fill="#000"/>
<circle cx="451.44" cy="396.71" r="3.3" fill="#000"/>
<circle cx="469.6" cy="396.71" r="3.3" fill="#000"/>
</svg></body></html>
